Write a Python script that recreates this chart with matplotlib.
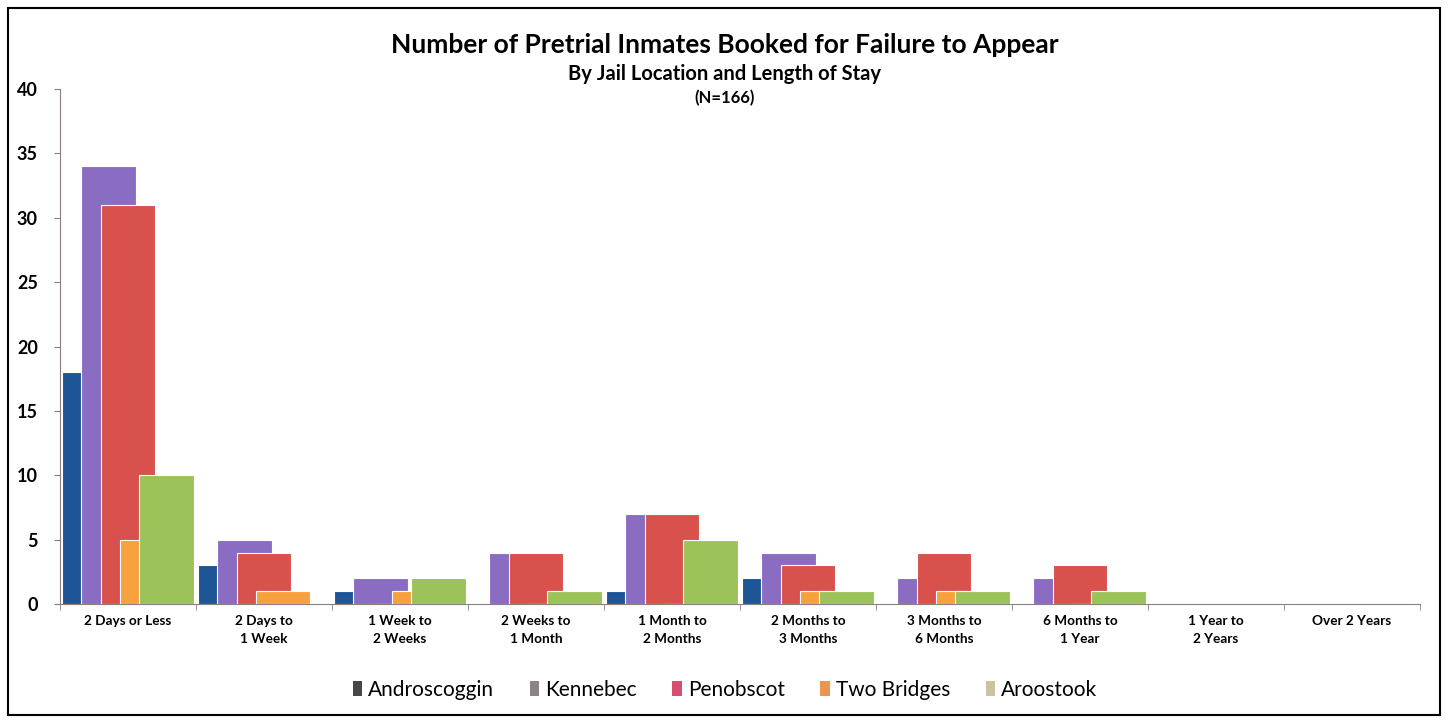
import matplotlib
matplotlib.use("Agg")
import matplotlib.pyplot as plt
from matplotlib.patches import Patch, Rectangle
import numpy as np

plt.rcParams['font.family'] = ['Lato', 'DejaVu Sans']

categories = ["2 Days or Less", "2 Days to\n1 Week", "1 Week to\n2 Weeks", "2 Weeks to\n1 Month",
              "1 Month to\n2 Months", "2 Months to\n3 Months", "3 Months to\n6 Months",
              "6 Months to\n1 Year", "1 Year to\n2 Years", "Over 2 Years"]
series_names = ["Androscoggin", "Kennebec", "Penobscot", "Two Bridges", "Aroostook"]
androscoggin = [18, 3, 1, 0, 1, 2, 0, 0, 0, 0]
kennebec     = [34, 5, 2, 4, 7, 4, 2, 2, 0, 0]
penobscot    = [31, 4, 0, 4, 7, 3, 4, 3, 0, 0]
two_bridges  = [5, 1, 1, 0, 0, 1, 1, 0, 0, 0]
aroostook    = [10, 0, 2, 1, 5, 1, 1, 1, 0, 0]
yticks = [0, 5, 10, 15, 20, 25, 30, 35, 40]

series = [androscoggin, kennebec, penobscot, two_bridges, aroostook]
bar_colors = ["#1d5596", "#8a6cc2", "#d8514c", "#f5a13f", "#9cc35a"]
legend_colors = ["#4a4646", "#8c8484", "#d4506e", "#eb9450", "#c9c3a3"]

fig = plt.figure(figsize=(14.5, 7.23), dpi=100)
ax = fig.add_axes([60/1450, 1-604/723, 1360/1450, 515/723])

x = np.arange(len(categories))
width = 0.40
step = 0.142
start = 0.015
for j, (vals, col) in enumerate(zip(series, bar_colors)):
    ax.bar(x + start + j*step, vals, width=width, align='edge', color=col,
           edgecolor='white', linewidth=0.8, zorder=2 + j)

ax.set_xlim(0, len(categories))
ax.set_ylim(0, 40)
ax.set_yticks(yticks)
ax.set_yticklabels([str(t) for t in yticks], fontsize=13, fontweight='bold')
ax.set_xticks(x + 0.5)
ax.set_xticklabels(categories, fontsize=9.8, fontweight='bold', linespacing=1.6)
ax.set_xticks(np.arange(len(categories) + 1), minor=True)
ax.tick_params(axis='x', which='major', length=0, pad=8)
ax.tick_params(axis='x', which='minor', length=4, color='#8a7f7f')
ax.tick_params(axis='y', length=4, color='#8a7f7f', pad=12)
for s in ['top', 'right']:
    ax.spines[s].set_visible(False)
ax.spines['left'].set_color('#8a7f7f')
ax.spines['bottom'].set_color('#8a7f7f')

fig.text(0.5, 1-45/723, "Number of Pretrial Inmates Booked for Failure to Appear",
         ha='center', va='center', fontsize=19, fontweight='bold')
fig.text(0.5, 1-74/723, "By Jail Location and Length of Stay",
         ha='center', va='center', fontsize=14.5, fontweight='bold')
fig.text(0.5, 1-98/723, "(N=166)", ha='center', va='center', fontsize=12, fontweight='bold')

handles = [Patch(facecolor=c, edgecolor='none') for c in legend_colors]
fig.legend(handles, series_names, loc='center', bbox_to_anchor=(0.5, 1-690/723), ncol=5,
           frameon=False, fontsize=15, handlelength=0.45, handleheight=0.7,
           handletextpad=0.3, columnspacing=1.7)

fig.patches.append(Rectangle((8/1450, 8/723), 1432/1450, 707/723, transform=fig.transFigure,
                             fill=False, edgecolor='black', linewidth=1.5))

fig.savefig("out.png", dpi=100)
